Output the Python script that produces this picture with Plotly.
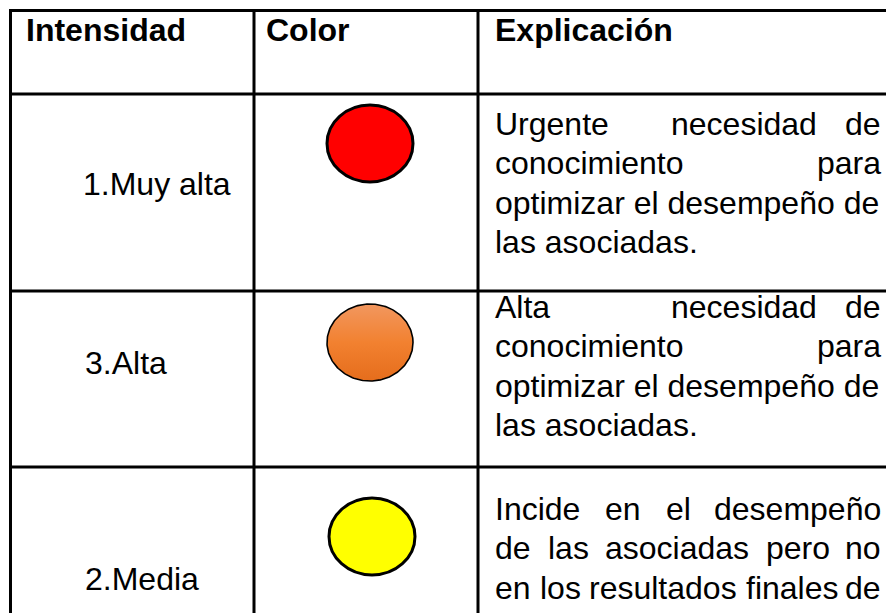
import numpy as np
import plotly.graph_objects as go

# ---------------- data ----------------
headers = ["Intensidad", "Color", "Explicación"]
intensities = ["1.Muy alta", "3.Alta", "2.Media"]
circle_fills = ["#FF0000", "gradient", "#FFFF00"]
orange_gradient = [[0.0, "#F2975F"], [0.5, "#F28130"], [1.0, "#E56D1C"]]
explanations = [
    ["Urgente  necesidad de", "conocimiento para", "optimizar el desempeño de", "las asociadas."],
    ["Alta    necesidad de", "conocimiento para", "optimizar el desempeño de", "las asociadas."],
    ["Incide en el desempeño", "de las asociadas pero no", "en los resultados finales de"],
]
justified = [
    [True, True, False, False],
    [True, True, False, False],
    [True, True, True],
]

# ---------------- layout geometry ----------------
W, H = 886, 613
FS = 32
FONT = "Liberation Sans, Arial, sans-serif"
col_x = [10.5, 254, 478]
row_y = [10.5, 94, 291, 467]
line_w = 3
text_x0, text_x1 = 494, 882
header_x = [25, 265, 494]
header_base = 41
label_x = [82, 84, 84]
label_base = [195, 374, 590]
expl_base0 = [135, 318, 520]
line_gap = 39.3
circles = [(327, 105, 413, 182, 3), (327, 304, 413, 381, 1.6), (329, 498, 415, 575, 3)]

# Arial / Liberation Sans advance widths (1/1000 em)
AW = {
    'a': 556, 'b': 556, 'c': 500, 'd': 556, 'e': 556, 'f': 278, 'g': 556, 'h': 556,
    'i': 222, 'j': 222, 'k': 500, 'l': 222, 'm': 833, 'n': 556, 'o': 556, 'p': 556,
    'q': 556, 'r': 333, 's': 500, 't': 278, 'u': 556, 'v': 500, 'w': 722, 'x': 500,
    'y': 500, 'z': 500, ' ': 278, '.': 278, 'ñ': 556, 'ó': 556, 'I': 278, 'A': 667,
    'U': 722,
}


def tw(s):
    return sum(AW.get(ch, 556) for ch in s) / 1000 * FS


def mid(base):
    # centre of text box relative to baseline
    return base - 0.3465 * FS


fig = go.Figure()
annotations = []
shapes = []


def add_text(txt, x, y, anchor="left", bold=False):
    annotations.append(dict(
        x=x, y=y, xref="x", yref="y", text=("<b>%s</b>" % txt) if bold else txt,
        showarrow=False, xanchor=anchor, yanchor="middle",
        font=dict(family=FONT, size=FS, color="#000000"), borderpad=0,
    ))


def place_line(line, y, just):
    if not just:
        add_text(line, text_x0, y)
        return
    tokens = line.split(" ")
    nsp = len(tokens) - 1
    total = sum(tw(t) for t in tokens)
    gap = (text_x1 - text_x0 - total) / nsp
    x = text_x0
    for i, t in enumerate(tokens):
        if t:
            if i == len(tokens) - 1:
                add_text(t, text_x1, y, anchor="right")
            else:
                add_text(t, x, y)
        x += tw(t) + gap


# headers
for hx, h in zip(header_x, headers):
    add_text(h, hx, mid(header_base), bold=True)

# labels
for lx, lb, lab in zip(label_x, label_base, intensities):
    add_text(lab, lx, mid(lb))

# explanations
for r, lines in enumerate(explanations):
    for i, ln in enumerate(lines):
        place_line(ln, mid(expl_base0[r] + i * line_gap), justified[r][i])

# grid lines
shapes.append(dict(type="line", x0=col_x[0] - 1.5, x1=W + 2, y0=row_y[0], y1=row_y[0]))
for ry in row_y[1:]:
    shapes.append(dict(type="line", x0=col_x[0], x1=W + 2, y0=ry, y1=ry))
for cx in col_x:
    shapes.append(dict(type="line", x0=cx, x1=cx, y0=row_y[0] - 1.5, y1=H + 2))
for s in shapes:
    s.update(xref="x", yref="y", line=dict(color="#000000", width=line_w), layer="above")

# circles
for (x0, y0, x1, y1, lw), fill in zip(circles, circle_fills):
    if fill == "gradient":
        t = np.linspace(0, 2 * np.pi, 200)
        cx, cy = (x0 + x1) / 2, (y0 + y1) / 2
        rx, ry = (x1 - x0) / 2, (y1 - y0) / 2
        fig.add_trace(go.Scatter(
            x=cx + rx * np.cos(t), y=cy + ry * np.sin(t), mode="lines",
            line=dict(color="#000000", width=lw), fill="toself",
            fillgradient=dict(type="vertical", colorscale=orange_gradient,
                              start=y0, stop=y1),
            hoverinfo="skip", showlegend=False,
        ))
    else:
        shapes.append(dict(type="circle", xref="x", yref="y", x0=x0, y0=y0, x1=x1, y1=y1,
                           fillcolor=fill, line=dict(color="#000000", width=lw)))

fig.update_layout(
    width=W, height=H, margin=dict(l=0, r=0, t=0, b=0),
    paper_bgcolor="#FFFFFF", plot_bgcolor="#FFFFFF",
    xaxis=dict(range=[0, W], visible=False, fixedrange=True),
    yaxis=dict(range=[H, 0], visible=False, fixedrange=True),
    shapes=shapes, annotations=annotations, showlegend=False,
)

fig.write_html(
    "out.html",
    config={"displayModeBar": False},
    post_script="document.body.style.margin='0';document.body.style.overflow='hidden';",
)
